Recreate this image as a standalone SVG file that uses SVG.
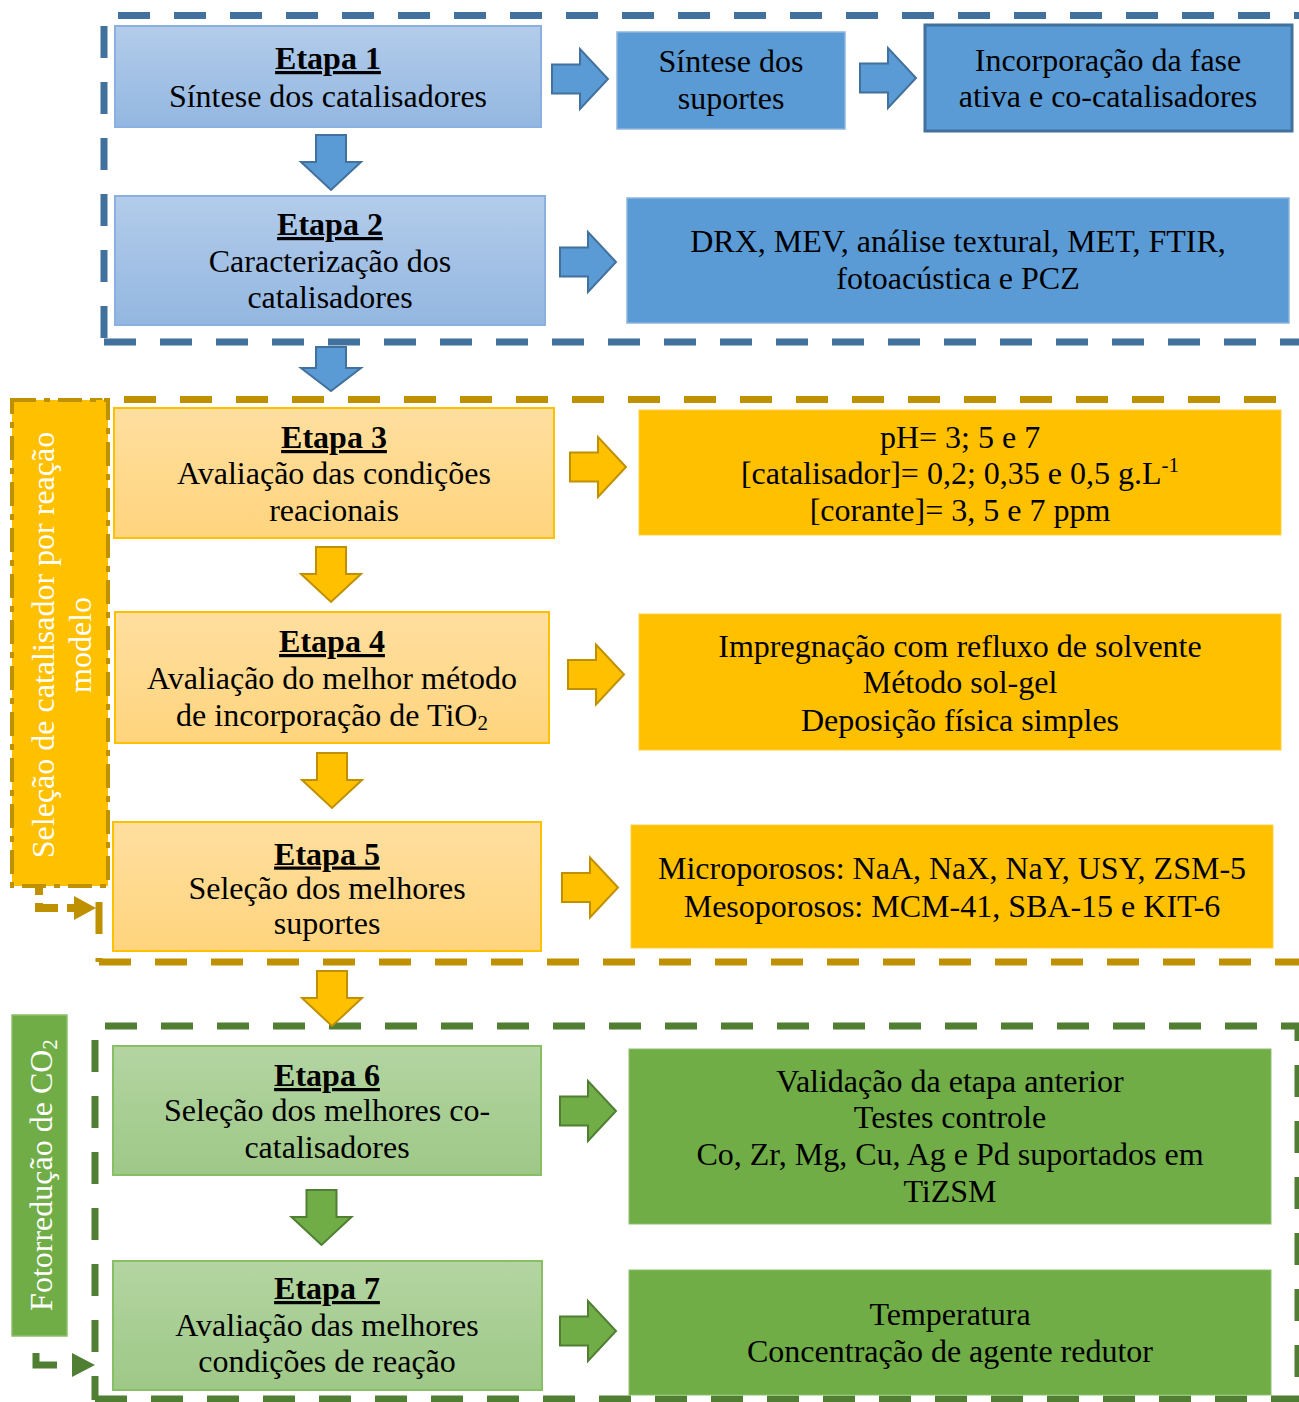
<svg xmlns="http://www.w3.org/2000/svg" width="1299" height="1402" viewBox="0 0 1299 1402">
<defs>
<linearGradient id="gBlue" x1="0" y1="0" x2="0" y2="1"><stop offset="0" stop-color="#B3CCEA"/><stop offset="1" stop-color="#93B7E1"/></linearGradient>
<linearGradient id="gGold" x1="0" y1="0" x2="0" y2="1"><stop offset="0" stop-color="#FFDF9F"/><stop offset="1" stop-color="#FFD47D"/></linearGradient>
<linearGradient id="gGreen" x1="0" y1="0" x2="0" y2="1"><stop offset="0" stop-color="#B4D5A2"/><stop offset="1" stop-color="#9EC887"/></linearGradient>
<path id="arrR" d="M0,-14.5 H28 V-30 L56,0 L28,30 V14.5 H0 Z"/>
<path id="arrD" d="M-15,0 H15 V27 H30 L0,55 L-30,27 H-15 Z"/>
<path id="arrDs" d="M-15,0 H15 V21 H30 L0,44 L-30,21 H-15 Z"/>
</defs>
<style>
text{font-family:"Liberation Serif","Times New Roman",serif;font-size:32px;fill:#000;text-anchor:middle}
.h{font-weight:bold;text-decoration:underline}
.wt{fill:#fff}
.lb{fill:url(#gBlue);stroke:#8AB0DF;stroke-width:2}
.lg{fill:url(#gGold);stroke:#FFC000;stroke-width:2}
.lgr{fill:url(#gGreen);stroke:#88BF64;stroke-width:2}
.sb{fill:#5B9BD5;stroke:#8DB6E0;stroke-width:1.5}
.sg{fill:#FFC000;stroke:#FFCF40;stroke-width:1}
.sgr{fill:#70AD47;stroke:#8DC06B;stroke-width:1}
.ab{fill:#5B9BD5;stroke:#41719C;stroke-width:2}
.ag{fill:#FFC000;stroke:#BF9000;stroke-width:2}
.agr{fill:#70AD47;stroke:#507E32;stroke-width:2}
.db{fill:none;stroke:#41719C;stroke-width:7;stroke-dasharray:32 24}
.dg{fill:none;stroke:#BF9000;stroke-width:7;stroke-dasharray:32 24}
.dgr{fill:none;stroke:#507E32;stroke-width:7;stroke-dasharray:32 24}
</style>

<!-- group containers -->
<g id="containers">
<path class="db" d="M118,15.5 H1299"/>
<path class="db" d="M104,26 V342"/>
<path class="db" d="M104,342 H1299"/>
<path class="dg" d="M124,399.5 H1299"/>
<path class="dg" d="M99,398 V962"/>
<path class="dg" d="M99,962 H1299"/>
<path class="dgr" d="M105,1026 H1298 V1399"/>
<path class="dgr" d="M95,1040 V1400"/>
<path class="dgr" d="M95,1399 H1299"/>
</g>

<!-- side labels -->
<g id="label-selecao">
<rect x="12" y="400" width="96" height="486" fill="#FFC000" stroke="#BF9000" stroke-width="4" stroke-dasharray="24 8 6 8"/>
<text class="wt" transform="translate(54,645) rotate(-90)">Seleção de catalisador por reação</text>
<text class="wt" transform="translate(91,645) rotate(-90)">modelo</text>
</g>
<g id="label-fotorreducao">
<rect x="12" y="1015" width="55" height="321" fill="#70AD47" stroke="#8DC06B" stroke-width="1.5"/>
<text class="wt" transform="translate(52,1175) rotate(-90)">Fotorredução de CO<tspan font-size="21" dy="5">2</tspan></text>
</g>

<!-- nodes: blue -->
<g id="etapa1">
<rect class="lb" x="115" y="26" width="426" height="101"/>
<text x="328" y="69" class="h">Etapa 1</text>
<text x="328" y="106.5">Síntese dos catalisadores</text>
</g>
<g id="sintese-suportes">
<rect class="sb" x="617" y="32" width="228" height="97"/>
<text x="731" y="72">Síntese dos</text>
<text x="731" y="109">suportes</text>
</g>
<g id="incorporacao">
<rect x="925" y="25" width="367" height="106" fill="#5B9BD5" stroke="#41719C" stroke-width="3"/>
<text x="1108" y="71">Incorporação da fase</text>
<text x="1108" y="107">ativa e co-catalisadores</text>
</g>
<g id="etapa2">
<rect class="lb" x="115" y="196" width="430" height="129"/>
<text x="330" y="235" class="h">Etapa 2</text>
<text x="330" y="272">Caracterização dos</text>
<text x="330" y="308">catalisadores</text>
</g>
<g id="caracterizacao">
<rect class="sb" x="627" y="198" width="662" height="125"/>
<text x="958" y="252">DRX, MEV, análise textural, MET, FTIR,</text>
<text x="958" y="289">fotoacústica e PCZ</text>
</g>

<!-- nodes: gold -->
<g id="etapa3">
<rect class="lg" x="114" y="408" width="440" height="130"/>
<text x="334" y="448" class="h">Etapa 3</text>
<text x="334" y="484">Avaliação das condições</text>
<text x="334" y="521">reacionais</text>
</g>
<g id="condicoes">
<rect class="sg" x="639" y="410" width="642" height="125"/>
<text x="960" y="448">pH= 3; 5 e 7</text>
<text x="960" y="484">[catalisador]= 0,2; 0,35 e 0,5 g.L<tspan font-size="21" dy="-12">-1</tspan></text>
<text x="960" y="521">[corante]= 3, 5 e 7 ppm</text>
</g>
<g id="etapa4">
<rect class="lg" x="115" y="612" width="434" height="131"/>
<text x="332" y="652" class="h">Etapa 4</text>
<text x="332" y="688.5">Avaliação do melhor método</text>
<text x="332" y="726">de incorporação de TiO<tspan font-size="21" dy="4">2</tspan></text>
</g>
<g id="metodos">
<rect class="sg" x="639" y="614" width="642" height="136"/>
<text x="960" y="657">Impregnação com refluxo de solvente</text>
<text x="960" y="693">Método sol-gel</text>
<text x="960" y="731">Deposição física simples</text>
</g>
<g id="etapa5">
<rect class="lg" x="113" y="822" width="428" height="129"/>
<text x="327" y="864.5" class="h">Etapa 5</text>
<text x="327" y="899">Seleção dos melhores</text>
<text x="327" y="934">suportes</text>
</g>
<g id="suportes">
<rect class="sg" x="631" y="825" width="642" height="123"/>
<text x="952" y="879">Microporosos: NaA, NaX, NaY, USY, ZSM-5</text>
<text x="952" y="917">Mesoporosos: MCM-41, SBA-15 e KIT-6</text>
</g>

<!-- nodes: green -->
<g id="etapa6">
<rect class="lgr" x="113" y="1046" width="428" height="129"/>
<text x="327" y="1086" class="h">Etapa 6</text>
<text x="327" y="1121">Seleção dos melhores co-</text>
<text x="327" y="1158">catalisadores</text>
</g>
<g id="cocatalisadores">
<rect class="sgr" x="629" y="1049" width="642" height="175"/>
<text x="950" y="1092">Validação da etapa anterior</text>
<text x="950" y="1128">Testes controle</text>
<text x="950" y="1165">Co, Zr, Mg, Cu, Ag e Pd suportados em</text>
<text x="950" y="1202">TiZSM</text>
</g>
<g id="etapa7">
<rect class="lgr" x="113" y="1261" width="429" height="129"/>
<text x="327" y="1299" class="h">Etapa 7</text>
<text x="327" y="1336">Avaliação das melhores</text>
<text x="327" y="1372">condições de reação</text>
</g>
<g id="reacao">
<rect class="sgr" x="629" y="1270" width="642" height="125"/>
<text x="950" y="1325">Temperatura</text>
<text x="950" y="1362">Concentração de agente redutor</text>
</g>

<!-- connectors -->
<g id="connectors">
<use href="#arrR" class="ab" x="552" y="79"/>
<use href="#arrR" class="ab" x="860" y="78"/>
<use href="#arrR" class="ab" x="560" y="262"/>
<use href="#arrD" class="ab" x="331" y="135"/>
<use href="#arrDs" class="ab" x="331" y="347"/>
<use href="#arrR" class="ag" x="570" y="467"/>
<use href="#arrR" class="ag" x="568" y="674.5"/>
<use href="#arrR" class="ag" x="562" y="887.5"/>
<use href="#arrD" class="ag" x="331" y="547"/>
<use href="#arrD" class="ag" x="332" y="753"/>
<use href="#arrD" class="ag" x="332" y="971"/>
<use href="#arrR" class="agr" x="560" y="1111"/>
<use href="#arrR" class="agr" x="560" y="1331"/>
<use href="#arrD" class="agr" x="321.5" y="1190"/>
<path d="M39,888 V908 H78" fill="none" stroke="#BF9000" stroke-width="8" stroke-dasharray="7 8 24 9 40"/>
<path d="M74,896 L96,908 L74,920 Z" fill="#BF9000"/>
<path d="M36,1337 V1365 H57" fill="none" stroke="#507E32" stroke-width="7" stroke-dasharray="0 16 40"/>
<path d="M72,1353 L95,1365 L72,1377 Z" fill="#507E32"/>
</g>
</svg>
